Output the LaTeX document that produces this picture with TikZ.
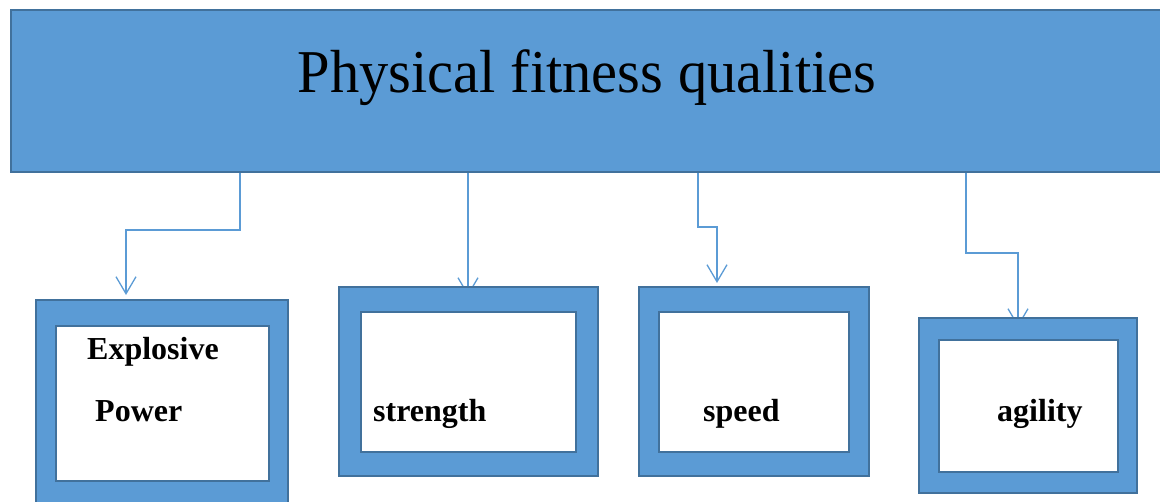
\documentclass[tikz,border=0pt]{standalone}
\usepackage{fontspec}
\setmainfont{Liberation Serif}
\usetikzlibrary{arrows.meta,backgrounds}
\definecolor{boxfill}{HTML}{5B9BD5}
\definecolor{boxline}{HTML}{41719C}
\begin{document}
\begin{tikzpicture}[x=1pt,y=-1pt,
 frame/.style={draw=boxline,line width=2.5pt,fill=boxfill,anchor=north west,inner sep=0pt,outer sep=0pt},
 innerbox/.style={draw=boxline,line width=2.5pt,fill=white,anchor=north west,inner sep=0pt,outer sep=0pt},
 conn/.style={draw=boxfill,line width=1.3pt,-{Straight Barb[length=17pt,width=20pt,line width=1.3pt]}},
 lbl/.style={font=\fontsize{32}{38}\selectfont\bfseries,anchor=base west,inner sep=0pt},
 ttl/.style={font=\fontsize{58.5}{66}\selectfont,anchor=base,inner sep=0pt,yscale=1.04}]
\useasboundingbox (0,0) rectangle (1160,502);
\clip (0,0) rectangle (1160,502);
% top box
\node[frame,minimum width=1170pt,minimum height=162pt] (top) at (11,10) {};
\node[ttl] (title) at (587,93) {Physical fitness qualities};
% child boxes
\node[frame,minimum width=252pt,minimum height=230pt] (b1) at (36,300) {};
\node[innerbox,minimum width=213pt,minimum height=155pt] (in1) at (56,326) {};
\node[frame,minimum width=259pt,minimum height=189pt] (b2) at (339,287) {};
\node[innerbox,minimum width=215pt,minimum height=140pt] (in2) at (361,312) {};
\node[frame,minimum width=230pt,minimum height=189pt] (b3) at (639,287) {};
\node[innerbox,minimum width=190pt,minimum height=140pt] (in3) at (659,312) {};
\node[frame,minimum width=218pt,minimum height=175pt] (b4) at (919,318) {};
\node[innerbox,minimum width=179pt,minimum height=132pt] (in4) at (939,340) {};
% labels
\node[lbl] (l1a) at (87,360) {Explosive};
\node[lbl] (l1b) at (95,422) {Power};
\node[lbl] (l2) at (373,422) {strength};
\node[lbl] (l3) at (703,422) {speed};
\node[lbl] (l4) at (997,422) {agility};
% connector ends
\coordinate (t1) at (126,295);
\coordinate (t2) at (468,296);
\coordinate (t3) at (717,283);
\coordinate (t4) at (1018,327);
\begin{scope}[on background layer]
\draw[conn] ([xshift=229pt]top.south west) -- ++(0,58) -| (t1);
\draw[conn] ([xshift=457pt]top.south west) -- (t2);
\draw[conn] ([xshift=687pt]top.south west) -- ++(0,55) -| (t3);
\draw[conn] ([xshift=955pt]top.south west) -- ++(0,81) -| (t4);
\end{scope}
\end{tikzpicture}
\end{document}
